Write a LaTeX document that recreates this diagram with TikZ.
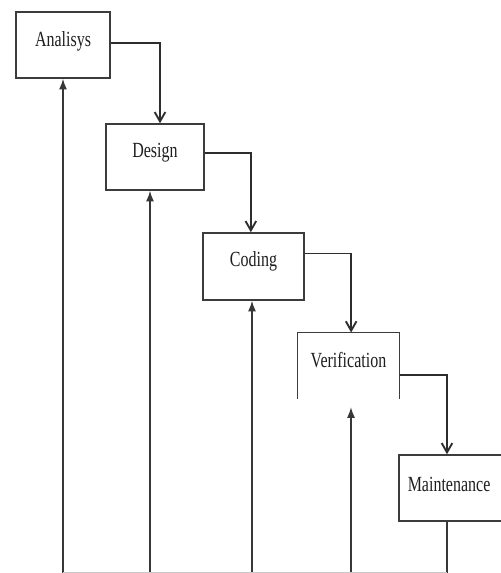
\documentclass[tikz,border=0pt]{standalone}
\usepackage{graphicx}
\usepackage{fontspec}
\setmainfont{Liberation Serif}
\usetikzlibrary{arrows.meta}

\tikzset{every picture/.style={line width=0.75pt}}
\tikzset{
  stage/.style={draw={rgb, 255:red, 60; green, 60; blue, 60}, line width=1.1pt, fill=white, inner sep=0pt},
  stagetext/.style={inner sep=0.75pt, text={rgb, 255:red, 30; green, 30; blue, 30}, font=\fontsize{12}{13}\selectfont},
  flow/.style={draw={rgb, 255:red, 45; green, 45; blue, 45}, line width=1.4pt, -{Straight Barb[length=7pt,width=8pt]}},
  back/.style={draw={rgb, 255:red, 55; green, 55; blue, 55}, line width=1.1pt, -{Latex[length=8pt,width=6pt]}}
}
\newcommand{\stagename}[1]{\scalebox{1}[1.35]{#1}}

\begin{document}
\begin{tikzpicture}[x=0.75pt,y=0.75pt,yscale=-1,xscale=1]
            \useasboundingbox (0,0) rectangle (500,573);

            %Boxes
            \node [stage, minimum width=94*0.75pt, minimum height=66*0.75pt] (ana) at (63,45) {};
            \node [stage, minimum width=98*0.75pt, minimum height=66*0.75pt] (des) at (155,157) {};
            \node [stage, minimum width=101*0.75pt, minimum height=67*0.75pt] (cod) at (253.5,266.5) {};
            \node [inner sep=0pt, minimum width=101*0.75pt, minimum height=65*0.75pt] (ver) at (348.5,365.5) {};
            \draw [draw={rgb, 255:red, 60; green, 60; blue, 60}, line width=1.1pt] (ver.south west) -- (ver.north west) -- (ver.north east) -- (ver.south east) ;
            \node [stage, minimum width=106*0.75pt, minimum height=66*0.75pt] (mai) at (452,488) {};

            % Text Node
            \node [stagetext] (anaT) at ([yshift=-2.5pt]ana.center) {\stagename{Analisys}};
            % Text Node
            \node [stagetext] (desT) at ([yshift=-3.5pt]des.center) {\stagename{Design}};
            % Text Node
            \node [stagetext] (codT) at ([yshift=-3.5pt]cod.center) {\stagename{Coding}};
            % Text Node
            \node [stagetext] (verT) at ([yshift=-4pt]ver.center) {\stagename{Verification}};
            % Text Node
            \node [stagetext] (maiT) at ([xshift=-2.2pt,yshift=-3pt]mai.center) {\stagename{Maintenance}};

            %Straight Lines (forward)
            \draw [flow] ([yshift=-1.5pt]ana.east) -| ([xshift=3.75pt]des.north) ;
            \draw [flow] ([yshift=-3pt]des.east) -| ([xshift=-2pt]cod.north) ;
            \draw [flow] ([yshift=-9.75pt]cod.east) -| ([xshift=2pt]ver.north) ;
            \draw [flow] ([yshift=7pt]ver.east) -| ([xshift=-3.75pt]mai.north) ;

            %Straight Lines (back)
            \coordinate (b1) at (63,573) ;
            \coordinate (b2) at (150,573) ;
            \coordinate (b3) at (252,573) ;
            \coordinate (b4) at (351,573) ;
            \coordinate (b5) at (447,573) ;
            \draw [back] (b1) -- (b1 |- ana.south) ;
            \draw [back] (b2) -- (b2 |- des.south) ;
            \draw [back] (b3) -- (b3 |- cod.south) ;
            \draw [back] (b4) -- ([yshift=6.5pt]b4 |- ver.south) ;
            \draw [draw={rgb, 255:red, 55; green, 55; blue, 55}, line width=1.1pt] ([xshift=-3.75pt]mai.south) -- (b5) ;
            \draw [draw={rgb, 255:red, 200; green, 200; blue, 200}, line width=1pt] (b1) -- (b5) ;

\end{tikzpicture}
\end{document}
